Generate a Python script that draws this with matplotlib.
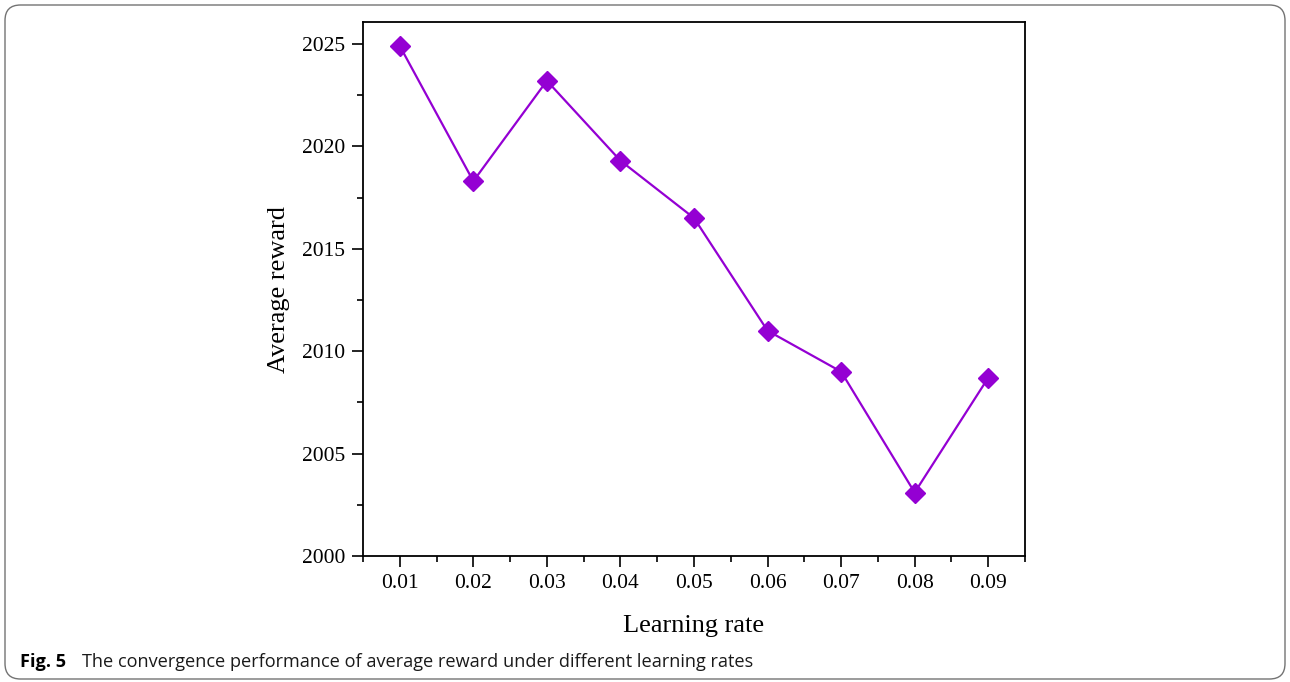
"""Average reward vs learning rate (Fig. 5)."""

import matplotlib.pyplot as plt
from matplotlib.patches import FancyBboxPatch
from matplotlib.ticker import MultipleLocator

learning_rates = [0.01, 0.02, 0.03, 0.04, 0.05, 0.06, 0.07, 0.08, 0.09]
avg_reward = [2024.9, 2018.3, 2023.2, 2019.3, 2016.5, 2011.0, 2009.0, 2003.1, 2008.7]
tick_labels = ["0.01", "0.02", "0.03", "0.04", "0.05", "0.06", "0.07", "0.08", "0.09"]

W, H = 1290, 682
fig = plt.figure(figsize=(W / 100, H / 100), dpi=100)

# rounded outer frame (behind the axes)
frame = FancyBboxPatch(
    (5 / W, 3 / H), (W - 10) / W, (H - 8) / H,
    boxstyle="round,pad=0,rounding_size=0.012",
    transform=fig.transFigure, facecolor="none", edgecolor="0.45",
    linewidth=1.0, mutation_aspect=W / H, zorder=-1,
)
fig.patches.append(frame)

ax = fig.add_axes([363 / W, 1 - 556 / H, (1025 - 363) / W, (556 - 22) / H])
ax.plot(learning_rates, avg_reward, color="#9400D3", linewidth=1.6,
        marker="D", markersize=10, zorder=3)

ax.set_xlim(0.005, 0.095)
ax.set_ylim(2000, 2026.07)
ax.set_xticks(learning_rates)
ax.set_xticklabels(tick_labels)
ax.set_yticks([2000, 2005, 2010, 2015, 2020, 2025])
ax.xaxis.set_minor_locator(MultipleLocator(0.005))
ax.yaxis.set_minor_locator(MultipleLocator(2.5))

serif = "Liberation Serif"
for lab in ax.get_xticklabels() + ax.get_yticklabels():
    lab.set_fontfamily(serif)
    lab.set_fontsize(15.5)

ax.tick_params(which="major", direction="out", length=8, width=1.2, pad=5)
ax.tick_params(which="minor", direction="out", length=4, width=1.2)
ax.tick_params(top=False, right=False)
for sp in ax.spines.values():
    sp.set_linewidth(1.3)

ax.set_xlabel("Learning rate", fontfamily=serif, fontsize=19, labelpad=16)
ax.set_ylabel("Average reward", fontfamily=serif, fontsize=19, labelpad=8)

fig.text(20 / W, 1 - 662 / H, "Fig. 5", fontfamily="Open Sans", fontweight="bold",
         fontsize=13.1, va="center", ha="left")
fig.text(82 / W, 1 - 662 / H,
         "The convergence performance of average reward under different learning rates",
         fontfamily="Open Sans", fontsize=13.1, va="center", ha="left", color="0.1")

fig.savefig("out.png", dpi=100)
